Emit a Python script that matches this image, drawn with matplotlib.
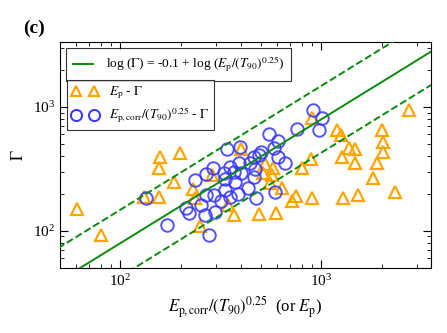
import matplotlib
matplotlib.use("Agg")
import matplotlib.pyplot as plt
import numpy as np

plt.rcParams['font.family'] = 'Liberation Serif'
plt.rcParams['mathtext.fontset'] = 'stix'

# E_p - Gamma (triangles)
ep = [60.9, 80.4, 130.6, 155.4, 155.4, 158.1, 185.6, 197.2, 229.4, 234.8,
      248.6, 285.9, 342.6, 369.1, 399, 488.7, 512.6, 526.6, 557.3, 573.8,
      570.4, 597.3, 636.2, 713.2, 746.5, 807, 891.7, 902, 905.3, 1204,
      1253, 1272, 1279, 1374, 1481, 1481, 1533, 1814, 1899, 2011,
      2023, 2023, 2335, 2750]
gam_ep = [151, 93.2, 188, 188, 318.7, 390.8, 245.7, 421, 215.6, 182.5,
          110.2, 281.3, 161.2, 135.1, 461.8, 137.6, 290.2, 345.1, 241, 320.3,
          281.3, 139.4, 219.8, 174.5, 190.4, 322, 378.6, 813.6, 185.3, 657,
          591, 395, 184.2, 468.8, 461.8, 356, 194, 266, 351.5, 648.7,
          522, 433.6, 206.3, 940]

# E_p,corr/(T90)^0.25 - Gamma (circles)
epc = [134.7, 170.4, 211.7, 219.1, 236.1, 252.1, 264.8, 267.8, 267.8, 277.1,
       288.5, 291.2, 297, 316.2, 329, 332.9, 332.9, 338.5, 349.7, 349.7,
       366.2, 373.3, 384.4, 387.8, 395.3, 398.6, 430.9, 439.8, 460.4, 464.2,
       469.6, 472.3, 487.6, 502.9, 549.5, 583.9, 606.2, 611, 662.2, 757,
       912, 977, 1015, 590.6]
gam_c = [182.5, 111.2, 153.3, 138.9, 256.3, 161.2, 133.8, 195.8, 289.1, 93.2,
         318.7, 194, 141.5, 173.6, 290.2, 263.6, 212.9, 455.8, 324.5, 188,
         299.1, 248.4, 197.6, 353.4, 479.3, 290.2, 219.8, 353.4, 269.6, 395,
         312.7, 185.3, 407.8, 433.6, 605.7, 470.6, 390.8, 533.7, 351.5, 658.5,
         945, 648.7, 821.5, 206.3]

intercept = -0.1
scatter_dex = 0.27

green = '#0a8a0a'
blue = '#3535ff'

fig = plt.figure(figsize=(4.47, 3.33), dpi=100)
ax = fig.add_axes([0.134, 0.195, 0.830, 0.679])

ax.plot(ep, gam_ep, '^', ms=8.5, mfc='none', mec='orange', mew=1.6, zorder=2)
ax.plot(epc, gam_c, 'o', ms=9, mfc='none', mec=blue, mew=1.4, alpha=0.85, zorder=3)

xx = np.array([40, 5000])
yy = 10 ** (intercept + np.log10(xx))
ln, = ax.plot(xx, yy, '-', color=green, lw=1.4, zorder=4)
ax.plot(xx, yy * 10 ** scatter_dex, '--', color=green, lw=1.4, zorder=4)
ax.plot(xx, yy / 10 ** scatter_dex, '--', color=green, lw=1.4, zorder=4)

ax.set_xscale('log')
ax.set_yscale('log')
ax.set_xlim(50, 3520)
ax.set_ylim(50, 3350)
ax.tick_params(which='both', direction='in', top=True, right=True, labelsize=11)
ax.tick_params(which='major', length=6)
ax.tick_params(which='minor', length=3)

ax.set_xlabel(r'$E_{\rm p,corr}/(T_{90})^{0.25}$  (or $E_{\rm p}$)', fontsize=12)
ax.set_ylabel(r'$\Gamma$', fontsize=12)

leg1 = ax.legend([ln], [r'log ($\Gamma$) = -0.1 + log ($E_{\rm p}/(T_{90})^{0.25}$)'],
                 loc='upper left', bbox_to_anchor=(0.016, 0.973), borderaxespad=0,
                 fontsize=9.6, fancybox=False, edgecolor='black',
                 handlelength=1.5, handletextpad=1.0, borderpad=0.5)
leg1.get_frame().set_linewidth(0.8)
ax.add_artist(leg1)

h1, = ax.plot([], [], '^', ms=7.5, mfc='none', mec='orange', mew=1.6)
h2, = ax.plot([], [], 'o', ms=8, mfc='none', mec=blue, mew=1.4)
leg2 = ax.legend([h1, h2], [r'$E_{\rm p}$ - $\Gamma$', r'$E_{\rm p,corr}/(T_{90})^{0.25}$ - $\Gamma$'],
                 loc='upper left', bbox_to_anchor=(0.019, 0.832), borderaxespad=0,
                 fontsize=9.6, numpoints=2, fancybox=False, edgecolor='black',
                 handlelength=2.0, handletextpad=0.8, labelspacing=0.35, borderpad=0.35)
leg2.get_frame().set_linewidth(0.8)

fig.text(0.051, 0.90, '(c)', fontsize=14, fontweight='bold')

fig.savefig('out.png', dpi=100)
